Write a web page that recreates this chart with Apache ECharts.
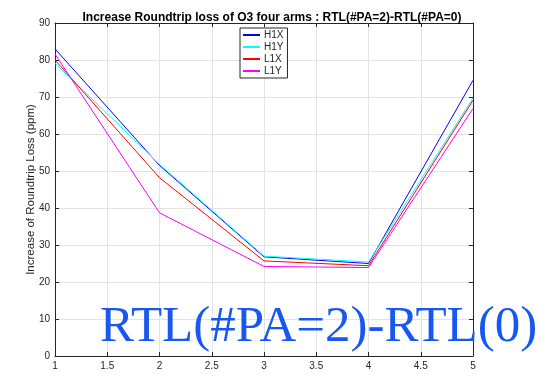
<!DOCTYPE html>
<html>
<head>
<meta charset="utf-8">
<script src="https://cdn.jsdelivr.net/npm/echarts@6/dist/echarts.min.js"></script>
<style>
  html, body { margin: 0; padding: 0; background: #fff; }
  #chart { width: 549px; height: 377px; }
</style>
</head>
<body>
<div id="chart"></div>
<script>
// Number of PA (1..5) on the x axis
const paSteps = [1, 2, 3, 4, 5];

// Increase of roundtrip loss (ppm) for each arm
const h1x = [83.0, 51.5, 26.8, 25.0, 74.5];
const h1y = [79.1, 51.8, 27.0, 25.4, 69.7];
const l1x = [80.0, 48.2, 25.7, 24.4, 69.1];
const l1y = [81.6, 38.7, 24.2, 23.9, 66.9];

const armNames = ['H1X', 'H1Y', 'L1X', 'L1Y'];
const armColors = ['#0000ff', '#00ffff', '#ff0000', '#ff00ff'];
const armValues = [h1x, h1y, l1x, l1y];

const titleText = 'Increase Roundtrip loss of O3 four arms : RTL(#PA=2)-RTL(#PA=0)';
const yAxisName = 'Increase of Roundtrip Loss (ppm)';
const noteText = 'RTL(#PA=2)-RTL(0)';

const axisColor = '#262626';
const gridColor = '#e3e3e3';
const font = 'Liberation Sans, Arial, Helvetica, sans-serif';

const chart = echarts.init(document.getElementById('chart'), null, { renderer: 'canvas' });

const series = armNames.map((name, i) => ({
  name: name,
  type: 'line',
  xAxisIndex: 0,
  yAxisIndex: 0,
  data: paSteps.map((x, k) => [x, armValues[i][k]]),
  showSymbol: false,
  symbol: 'none',
  lineStyle: { color: armColors[i], width: 1 },
  itemStyle: { color: armColors[i] },
  animation: false
}));

function xAxisDef(pos, labels) {
  return {
    type: 'value', position: pos, min: 1, max: 5, interval: 0.5,
    axisLine: { show: true, onZero: false, lineStyle: { color: axisColor, width: 1 } },
    axisTick: { show: true, inside: true, length: 4, lineStyle: { color: axisColor } },
    axisLabel: { show: labels, color: axisColor, fontSize: 10, fontFamily: font, margin: 5 },
    splitLine: { show: labels, lineStyle: { color: gridColor, width: 1 } }
  };
}
function yAxisDef(pos, labels) {
  return {
    type: 'value', position: pos, min: 0, max: 90, interval: 10,
    name: labels ? yAxisName : '',
    nameLocation: 'middle', nameGap: 18,
    nameMoveOverlap: false,
    nameTextStyle: { color: axisColor, fontSize: 11.5, fontFamily: font },
    axisLine: { show: true, onZero: false, lineStyle: { color: axisColor, width: 1 } },
    axisTick: { show: true, inside: true, length: 4, lineStyle: { color: axisColor } },
    axisLabel: { show: labels, color: axisColor, fontSize: 10, fontFamily: font, margin: 5 },
    splitLine: { show: labels, lineStyle: { color: gridColor, width: 1 } }
  };
}

chart.setOption({
  backgroundColor: '#ffffff',
  animation: false,
  title: {
    text: titleText,
    left: 267, top: 7, textAlign: 'center',
    textStyle: { fontSize: 12, fontWeight: 'bold', color: '#000', fontFamily: font }
  },
  grid: { left: 55, right: 76, top: 23, bottom: 21, containLabel: false },
  xAxis: [xAxisDef('bottom', true), xAxisDef('top', false)],
  yAxis: [yAxisDef('left', true), yAxisDef('right', false)],
  legend: {
    data: armNames,
    orient: 'vertical',
    left: 240, top: 28,
    padding: [1, 4, 1, 3],
    itemGap: 0,
    itemWidth: 17, itemHeight: 2,
    icon: 'rect',
    backgroundColor: '#ffffff',
    borderColor: axisColor, borderWidth: 1,
    textStyle: { fontSize: 10, color: axisColor, fontFamily: font, lineHeight: 12, padding: [0, 0, 0, -1] }
  },
  graphic: [{
    type: 'text', z: 100,
    left: 100, top: 302,
    style: {
      text: noteText,
      font: '51px "Liberation Serif", "Times New Roman", serif',
      fill: '#1957f2'
    }
  }],
  series: series
});
</script>
</body>
</html>
